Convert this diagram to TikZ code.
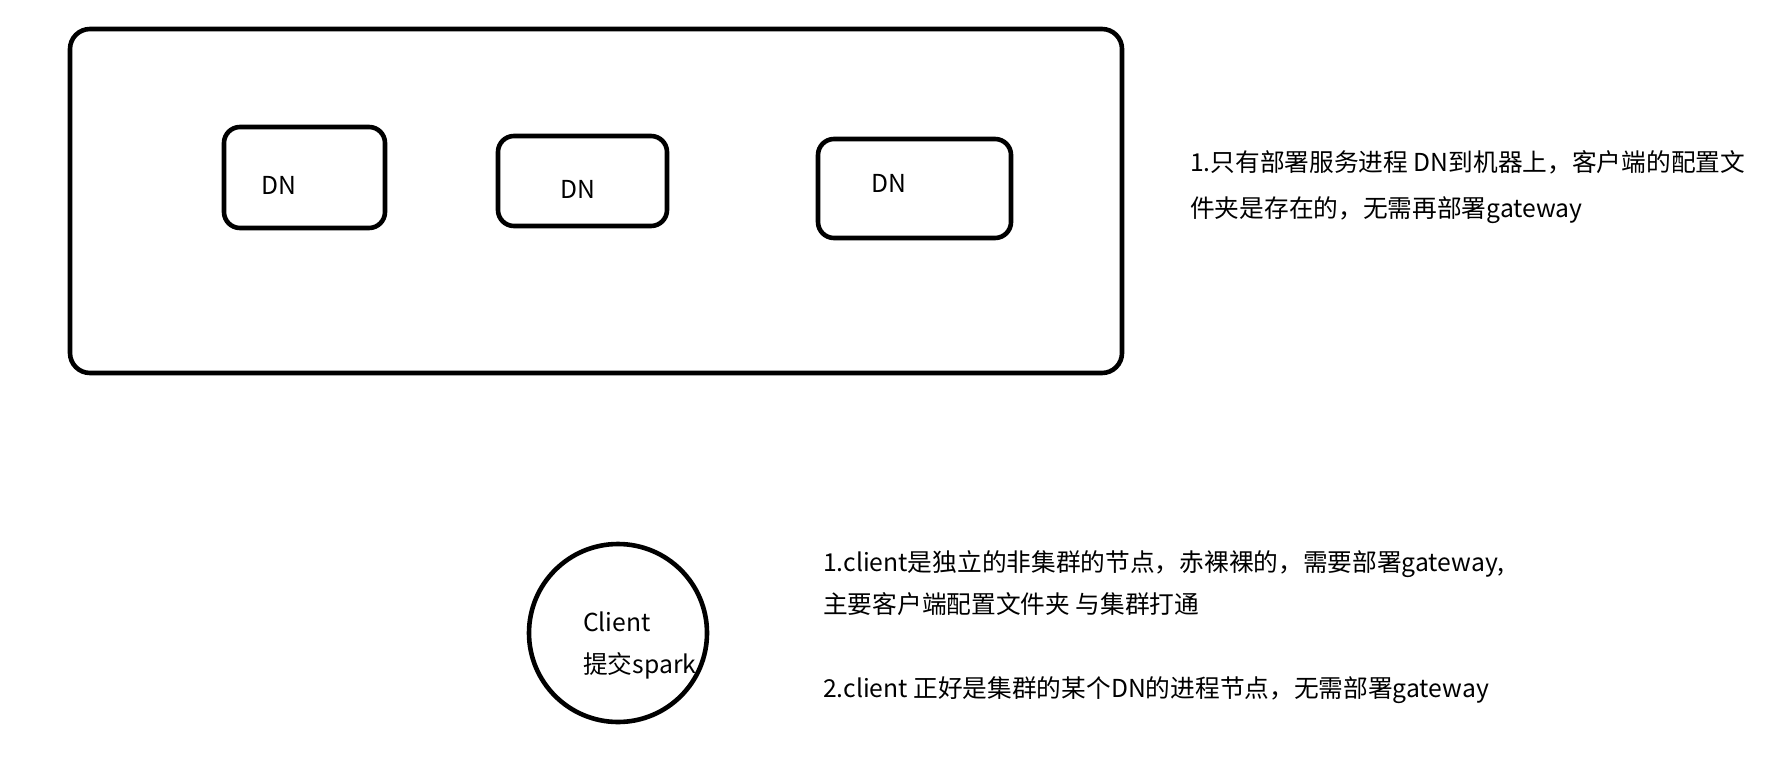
\documentclass[tikz,border=0pt]{standalone}
\usepackage{fontspec}
\setmainfont{Noto Sans CJK SC}
\begin{document}
\begin{tikzpicture}[x=1pt,y=-1pt,
  box/.style={draw=black,line width=4.6pt,rounded corners=16pt,inner sep=0pt},
  txt/.style={inner sep=0pt,anchor=base west,font=\fontsize{24.7}{30}\selectfont},
  lbl/.style={inner sep=0pt,anchor=base,font=\fontsize{24.7}{30}\selectfont}]
\useasboundingbox (0,0) rectangle (1784,776);
\node[box,rounded corners=20pt,minimum width=1052pt,minimum height=344pt] (cluster) at (596,201) {};
\node[box,minimum width=161pt,minimum height=101pt] (dn1) at (304.5,177.5) {};
\node[box,minimum width=169pt,minimum height=90pt] (dn2) at (582.5,181) {};
\node[box,minimum width=193pt,minimum height=99pt] (dn3) at (914.5,188.5) {};
\node[lbl] (dn1t) at (279,194) {DN};
\node[lbl] (dn2t) at (578,198) {DN};
\node[lbl] (dn3t) at (889,192) {DN};
\node[txt] (note1a) at (1190,171) {1.只有部署服务进程 DN到机器上，客户端的配置文};
\node[txt] (note1b) at (1190,217) {件夹是存在的，无需再部署gateway};
\node[draw=black,line width=4.6pt,circle,minimum size=178pt,inner sep=0pt] (client) at (618,633) {};
\node[txt] (clientt) at (583,631) {Client};
\node[txt] (clients) at (583,673) {提交spark};
\node[txt] (note2a) at (823,571) {1.client是独立的非集群的节点，赤裸裸的，需要部署gateway,};
\node[txt] (note2b) at (823,613) {主要客户端配置文件夹 与集群打通};
\node[txt] (note2c) at (823,697) {2.client 正好是集群的某个DN的进程节点，无需部署gateway};
\end{tikzpicture}
\end{document}
